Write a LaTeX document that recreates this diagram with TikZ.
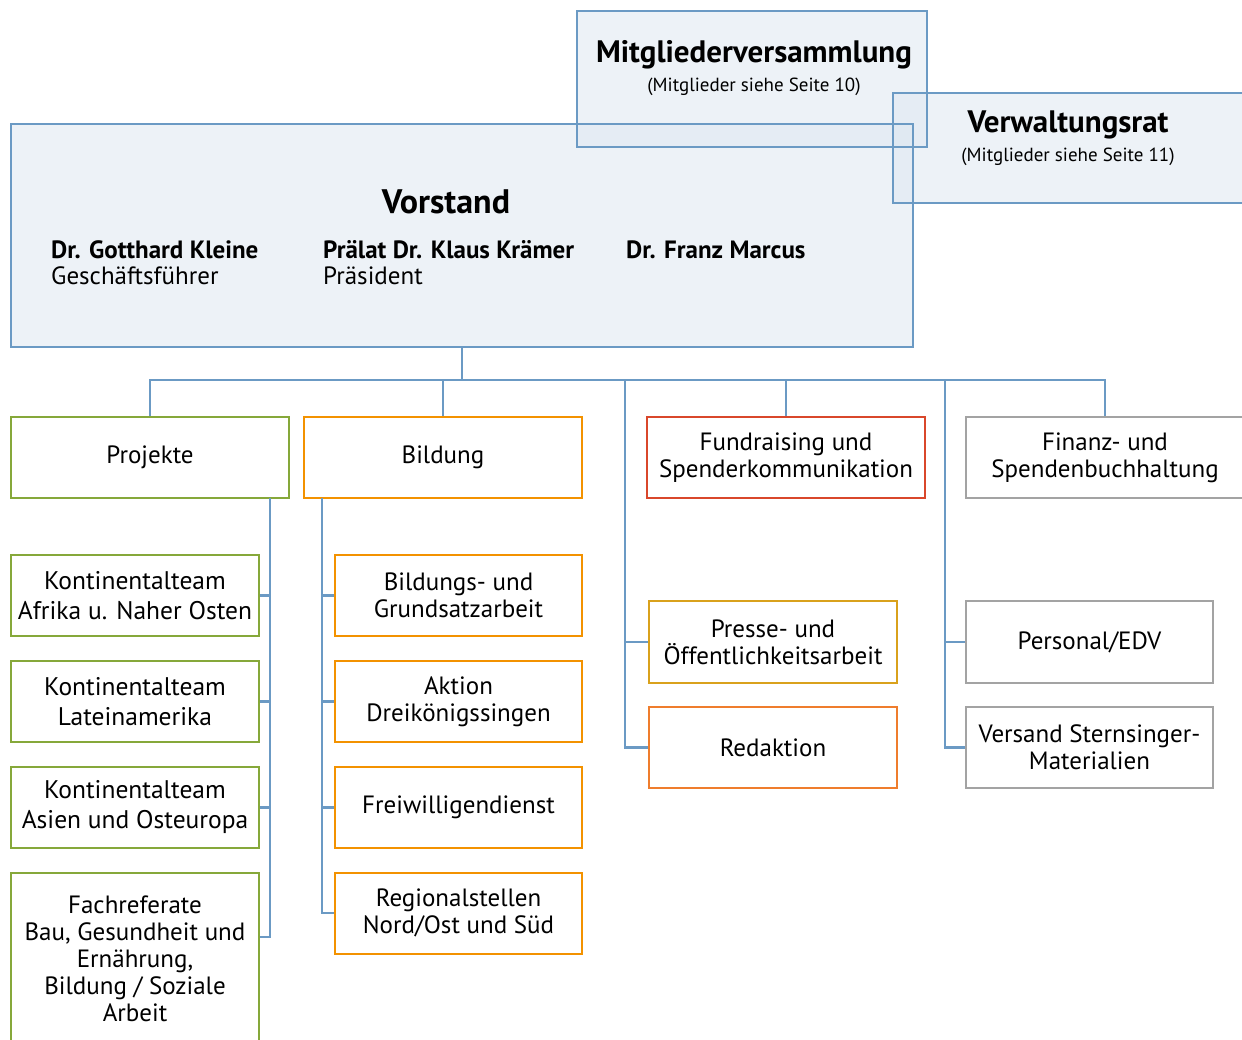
\documentclass[tikz,border=0pt]{standalone}
\usepackage{fontspec}
\setmainfont{PT Sans}
\definecolor{cblue}{HTML}{6B9AC4}
\definecolor{cfill}{HTML}{DCE6F0}
\definecolor{cgreen}{HTML}{86A83A}
\definecolor{corange}{HTML}{F39200}
\definecolor{cgold}{HTML}{D9A11C}
\definecolor{credo}{HTML}{EF7D2D}
\definecolor{cred}{HTML}{D9472B}
\definecolor{cgray}{HTML}{A3A3A3}
\begin{document}
\begin{tikzpicture}[x=1pt,y=-1pt,
  box/.style={draw, line width=2pt, fill=white, inner sep=0pt, align=center,
    font=\fontsize{25}{27}\selectfont, text=black},
  gbox/.style={box, draw=cgreen},
  kbox/.style={gbox, minimum width=248, minimum height=81, font=\fontsize{25.5}{30}\selectfont},
  obox/.style={box, draw=corange},
  graybox/.style={box, draw=cgray},
  topbox/.style={fill=cfill, fill opacity=0.5, inner sep=0pt},
  topline/.style={draw=cblue, line width=2pt},
  head/.style={inner sep=0pt, font=\fontsize{31}{34}\selectfont\bfseries},
  sub/.style={inner sep=0pt, font=\fontsize{19}{22}\selectfont},
  person/.style={inner sep=0pt, anchor=base west, font=\fontsize{25}{27}\selectfont},
  conn/.style={draw=cblue, line width=2.5pt}
]
\useasboundingbox (0,0) rectangle (1242,1039);

% top boxes: fills first, then outlines
\node[topbox, minimum width=902, minimum height=223] (vorstand) at (462,235.5) {};
\node[topbox, minimum width=350, minimum height=136] (mitglied) at (752,79) {};
\node[topbox, minimum width=360, minimum height=110] (verwalt) at (1073,148) {};
\draw[topline] (vorstand.north west) rectangle (vorstand.south east);
\draw[topline] (mitglied.north west) rectangle (mitglied.south east);
\draw[topline] (verwalt.north west) rectangle (verwalt.south east);

\node[head] (mvtitle) at (754,55) {Mitgliederversammlung};
\node[sub] (mvsub) at (754,87) {(Mitglieder siehe Seite 10)};
\node[head] (vrtitle) at (1068,125) {Verwaltungsrat};
\node[sub] (vrsub) at (1068,157) {(Mitglieder siehe Seite 11)};
\node[head, font=\fontsize{34}{38}\selectfont\bfseries] (vtitle) at (446,202) {Vorstand};

\node[person] (p1a) at (51,258) {\bfseries Dr. Gotthard Kleine};
\node[person] (p1b) at (51,284) {Geschäftsführer};
\node[person] (p2a) at (323,258) {\bfseries Prälat Dr. Klaus Krämer};
\node[person] (p2b) at (323,284) {Präsident};
\node[person] (p3a) at (626,258) {\bfseries Dr. Franz Marcus};

% level 1
\node[gbox, minimum width=278, minimum height=81] (projekte) at (150,457.5) {Projekte};
\node[obox, minimum width=278, minimum height=81] (bildung) at (443,457.5) {Bildung};
\node[box, draw=cred, minimum width=278, minimum height=81] (fund) at (786,457.5) {Fundraising und\\Spenderkommunikation};
\node[graybox, minimum width=278, minimum height=81] (finanz) at (1105,457.5) {Finanz- und\\Spendenbuchhaltung};

% Projekte children
\node[kbox] (kt1) at (135,595.5) {Kontinentalteam\\Afrika u. Naher Osten};
\node[kbox] (kt2) at (135,701.5) {Kontinentalteam\\Lateinamerika};
\node[kbox] (kt3) at (135,807.5) {Kontinentalteam\\Asien und Osteuropa};
\node[gbox, minimum width=248, minimum height=172] (fach) at (135,959) {Fachreferate\\Bau, Gesundheit und\\Ernährung,\\Bildung / Soziale\\Arbeit};

% Bildung children
\node[obox, minimum width=247, minimum height=81] (b1) at (458.5,595.5) {Bildungs- und\\Grundsatzarbeit};
\node[obox, minimum width=247, minimum height=81] (b2) at (458.5,701.5) {Aktion\\Dreikönigssingen};
\node[obox, minimum width=247, minimum height=81] (b3) at (458.5,807.5) {Freiwilligendienst};
\node[obox, minimum width=247, minimum height=81] (b4) at (458.5,913) {Regionalstellen\\Nord/Ost und Süd};

% Fundraising side
\node[box, draw=cgold, minimum width=248, minimum height=82] (presse) at (773,642) {Presse- und\\Öffentlichkeitsarbeit};
\node[box, draw=credo, minimum width=248, minimum height=81] (redaktion) at (773,747.5) {Redaktion};

% Finanz side
\node[graybox, minimum width=247, minimum height=82] (personal) at (1089.5,642) {Personal/EDV};
\node[graybox, minimum width=247, minimum height=81] (versand) at (1089.5,747.5) {Versand Sternsinger-\\Materialien};

% connectors
\coordinate (bus) at (462,380);
\coordinate (pl) at (625,380);
\coordinate (ql) at (945,380);
\coordinate (pv) at (270,498);
\coordinate (bv) at (322,498);

\draw[conn] (vorstand.south) -- (bus);
\draw[conn] (projekte.north) |- (bus);
\draw[conn] (bildung.north) |- (bus);
\draw[conn] (fund.north) |- (bus);
\draw[conn] (finanz.north) |- (bus);

\draw[conn] (pv) |- (kt1.east);
\draw[conn] (pv) |- (kt2.east);
\draw[conn] (pv) |- (kt3.east);
\draw[conn] (pv) |- ([yshift=22pt]fach.east);

\draw[conn] (bv) |- (b1.west);
\draw[conn] (bv) |- (b2.west);
\draw[conn] (bv) |- (b3.west);
\draw[conn] (bv) |- (b4.west);

\draw[conn] (pl) |- (presse.west);
\draw[conn] (pl) |- (redaktion.west);
\draw[conn] (ql) |- (personal.west);
\draw[conn] (ql) |- (versand.west);
\end{tikzpicture}
\end{document}
